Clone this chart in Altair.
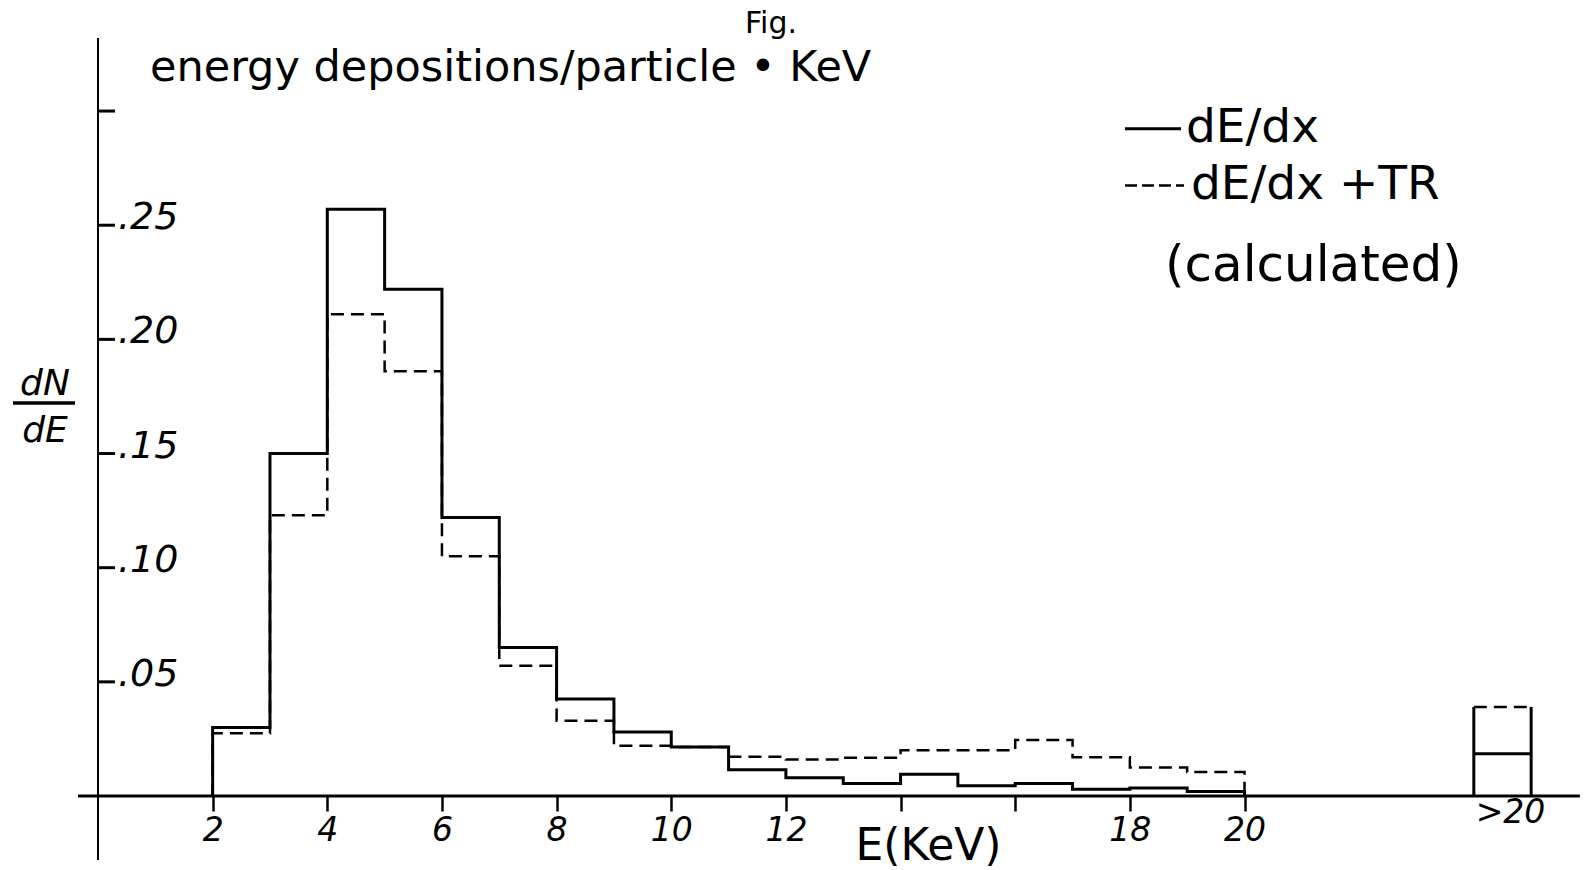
import altair as alt
import pandas as pd

# ---- data ----
bin_left = [2, 3, 4, 5, 6, 7, 8, 9, 10, 11, 12, 13, 14, 15, 16, 17, 18, 19]
bin_width = 1
dedx = [0.030, 0.150, 0.257, 0.222, 0.122, 0.065, 0.0425, 0.028, 0.0215,
        0.0115, 0.008, 0.0055, 0.0095, 0.0045, 0.0055, 0.003, 0.0035, 0.002]
dedx_tr = [0.0275, 0.123, 0.211, 0.186, 0.105, 0.057, 0.033, 0.022, 0.0215,
           0.0172, 0.016, 0.0167, 0.020, 0.020, 0.0245, 0.017, 0.0125, 0.0105]
over20_edges = [24, 25]
over20_dedx = 0.0185
over20_dedx_tr = 0.039
over20_label = ">20"
series_names = ["dE/dx", "dE/dx +TR"]
x_tick_values = [2, 4, 6, 8, 10, 12, 14, 16, 18, 20]
x_tick_labels = ["2", "4", "6", "8", "10", "12", "", "", "18", "20"]
y_tick_values = [0.05, 0.10, 0.15, 0.20, 0.25, 0.30]
y_tick_labels = [".05", ".10", ".15", ".20", ".25", ""]

FONT = "DejaVu Sans"
X_MIN, X_MAX = 0, 25.8
Y_MIN, Y_MAX = 0, 0.332


def step_rows(name, vals):
    rows = [{"series": name, "E": bin_left[0], "v": 0.0, "i": 0}]
    for k, (x, v) in enumerate(zip(bin_left, vals)):
        rows.append({"series": name, "E": x, "v": v, "i": k + 1})
    end = bin_left[-1] + bin_width
    rows.append({"series": name, "E": end, "v": vals[-1], "i": len(vals) + 1})
    rows.append({"series": name, "E": end, "v": 0.0, "i": len(vals) + 2})
    return pd.DataFrame(rows)


solid_df = step_rows(series_names[0], dedx)
dashed_df = step_rows(series_names[1], dedx_tr)
box_df = pd.DataFrame([{"lo": over20_edges[0], "hi": over20_edges[1],
                        "s": over20_dedx, "d": over20_dedx_tr,
                        "top": max(over20_dedx, over20_dedx_tr), "zero": 0.0,
                        "mid": (over20_edges[0] + over20_edges[1]) / 2 + 0.14,
                        "label": over20_label}])
ytick_df = pd.DataFrame({"val": y_tick_values, "label": y_tick_labels})
frame_df = pd.DataFrame([{"x0": 0.0, "xa": -0.35, "xb": 25.85,
                          "y0": 0.0, "ya": -0.028, "yb": Y_MAX}])
one = pd.DataFrame([{"k": 0}])

xscale = alt.Scale(domain=[X_MIN, X_MAX], nice=False, zero=False)
yscale = alt.Scale(domain=[Y_MIN, Y_MAX], nice=False, zero=False)

label_expr = "[" + ",".join("'%s'" % t for t in x_tick_labels) + "][indexof([" + \
    ",".join(str(v) for v in x_tick_values) + "], datum.value)]"

x_axis = alt.Axis(values=x_tick_values, labelExpr=label_expr, domain=False, grid=False,
                  tickSize=15, tickWidth=2.5, tickColor="black",
                  labelFont=FONT, labelFontSize=33, labelFontStyle="italic",
                  labelColor="black", labelPadding=3, labelOverlap=False,
                  labelFlush=False, labelBound=False,
                  title="E(KeV)", titleFont=FONT, titleFontSize=44,
                  titleFontWeight="normal", titleColor="black",
                  titleX=830, titleY=50, titleBaseline="middle", titleAlign="center")


def X(field):
    return alt.X(field, scale=xscale, axis=x_axis)


def Y(field):
    return alt.Y(field, scale=yscale, axis=None)


solid = alt.Chart(solid_df).mark_line(interpolate="step-after", color="black",
                                      strokeWidth=3).encode(
    x=X("E:Q"), y=Y("v:Q"), order="i:Q")

dashed = alt.Chart(dashed_df).mark_line(interpolate="step-after", color="black",
                                        strokeWidth=2.5, strokeDash=[13, 7]).encode(
    x=X("E:Q"), y=Y("v:Q"), order="i:Q")

# axes drawn as in the hand-made figure
y_axis_line = alt.Chart(frame_df).mark_rule(color="black", strokeWidth=2).encode(
    x=X("x0:Q"), y=Y("ya:Q"), y2="yb:Q")
x_axis_line = alt.Chart(frame_df).mark_rule(color="black", strokeWidth=3).encode(
    x=X("xa:Q"), x2="xb:Q", y=Y("y0:Q"))

y_ticks = alt.Chart(ytick_df).mark_rule(color="black", strokeWidth=3).encode(
    y=Y("val:Q"), x=alt.value(0), x2=alt.value(17))
y_labels = alt.Chart(ytick_df).mark_text(align="left", baseline="alphabetic", dy=4,
                                         font=FONT, fontSize=38, fontStyle="italic",
                                         color="black").encode(
    y=Y("val:Q"), x=alt.value(20), text="label:N")

# >20 overflow bin
box_left = alt.Chart(box_df).mark_rule(color="black", strokeWidth=3).encode(
    x=X("lo:Q"), y=Y("zero:Q"), y2="top:Q")
box_right = alt.Chart(box_df).mark_rule(color="black", strokeWidth=3).encode(
    x=X("hi:Q"), y=Y("zero:Q"), y2="top:Q")
box_solid = alt.Chart(box_df).mark_rule(color="black", strokeWidth=3).encode(
    x=X("lo:Q"), x2="hi:Q", y=Y("s:Q"))
box_dashed = alt.Chart(box_df).mark_rule(color="black", strokeWidth=2.5,
                                         strokeDash=[13, 7]).encode(
    x=X("lo:Q"), x2="hi:Q", y=Y("d:Q"))
box_label = alt.Chart(box_df).mark_text(font=FONT, fontSize=33, fontStyle="italic",
                                        color="black", baseline="middle").encode(
    x=X("mid:Q"), y=alt.value(775), text="label:N")


def txt(s, x, y, size, align="left", style="normal", baseline="alphabetic"):
    df = pd.DataFrame([{"t": s}])
    return alt.Chart(df).mark_text(align=align, baseline=baseline, font=FONT,
                                   fontSize=size, fontStyle=style, color="black").encode(
        x=alt.value(x), y=alt.value(y), text="t:N")


def hline(x1, x2, y, width=3, dash=None):
    kw = {"color": "black", "strokeWidth": width}
    if dash:
        kw["strokeDash"] = dash
    return alt.Chart(one).mark_rule(**kw).encode(x=alt.value(x1), x2=alt.value(x2),
                                                 y=alt.value(y))


annotations = [
    txt("Fig.", 647, -5, 30),
    txt("energy depositions/particle \u2022 KeV", 52, 43, 43),
    hline(1027, 1083, 90.7),
    txt(series_names[0], 1088, 104, 47),
    hline(1027, 1086, 147.5, 2.5, [12, 5]),
    txt(series_names[1], 1093, 160.6, 47),
    txt("(calculated)", 1067, 243, 50),
    txt("dN", -53, 357, 36, align="center", style="italic"),
    hline(-85, -23, 365, 3.5),
    txt("dE", -53, 404, 36, align="center", style="italic"),
]

chart = alt.layer(
    solid, dashed, y_axis_line, x_axis_line, y_ticks, y_labels,
    box_left, box_right, box_solid, box_dashed, box_label, *annotations
).properties(
    width=1479, height=758,
    autosize=alt.AutoSizeParams(type="none"),
    padding={"left": 98, "top": 38, "right": 12, "bottom": 74},
    background="white",
).configure_view(stroke=None)

chart.save("out.html", embed_options={"renderer": "svg", "actions": False})
